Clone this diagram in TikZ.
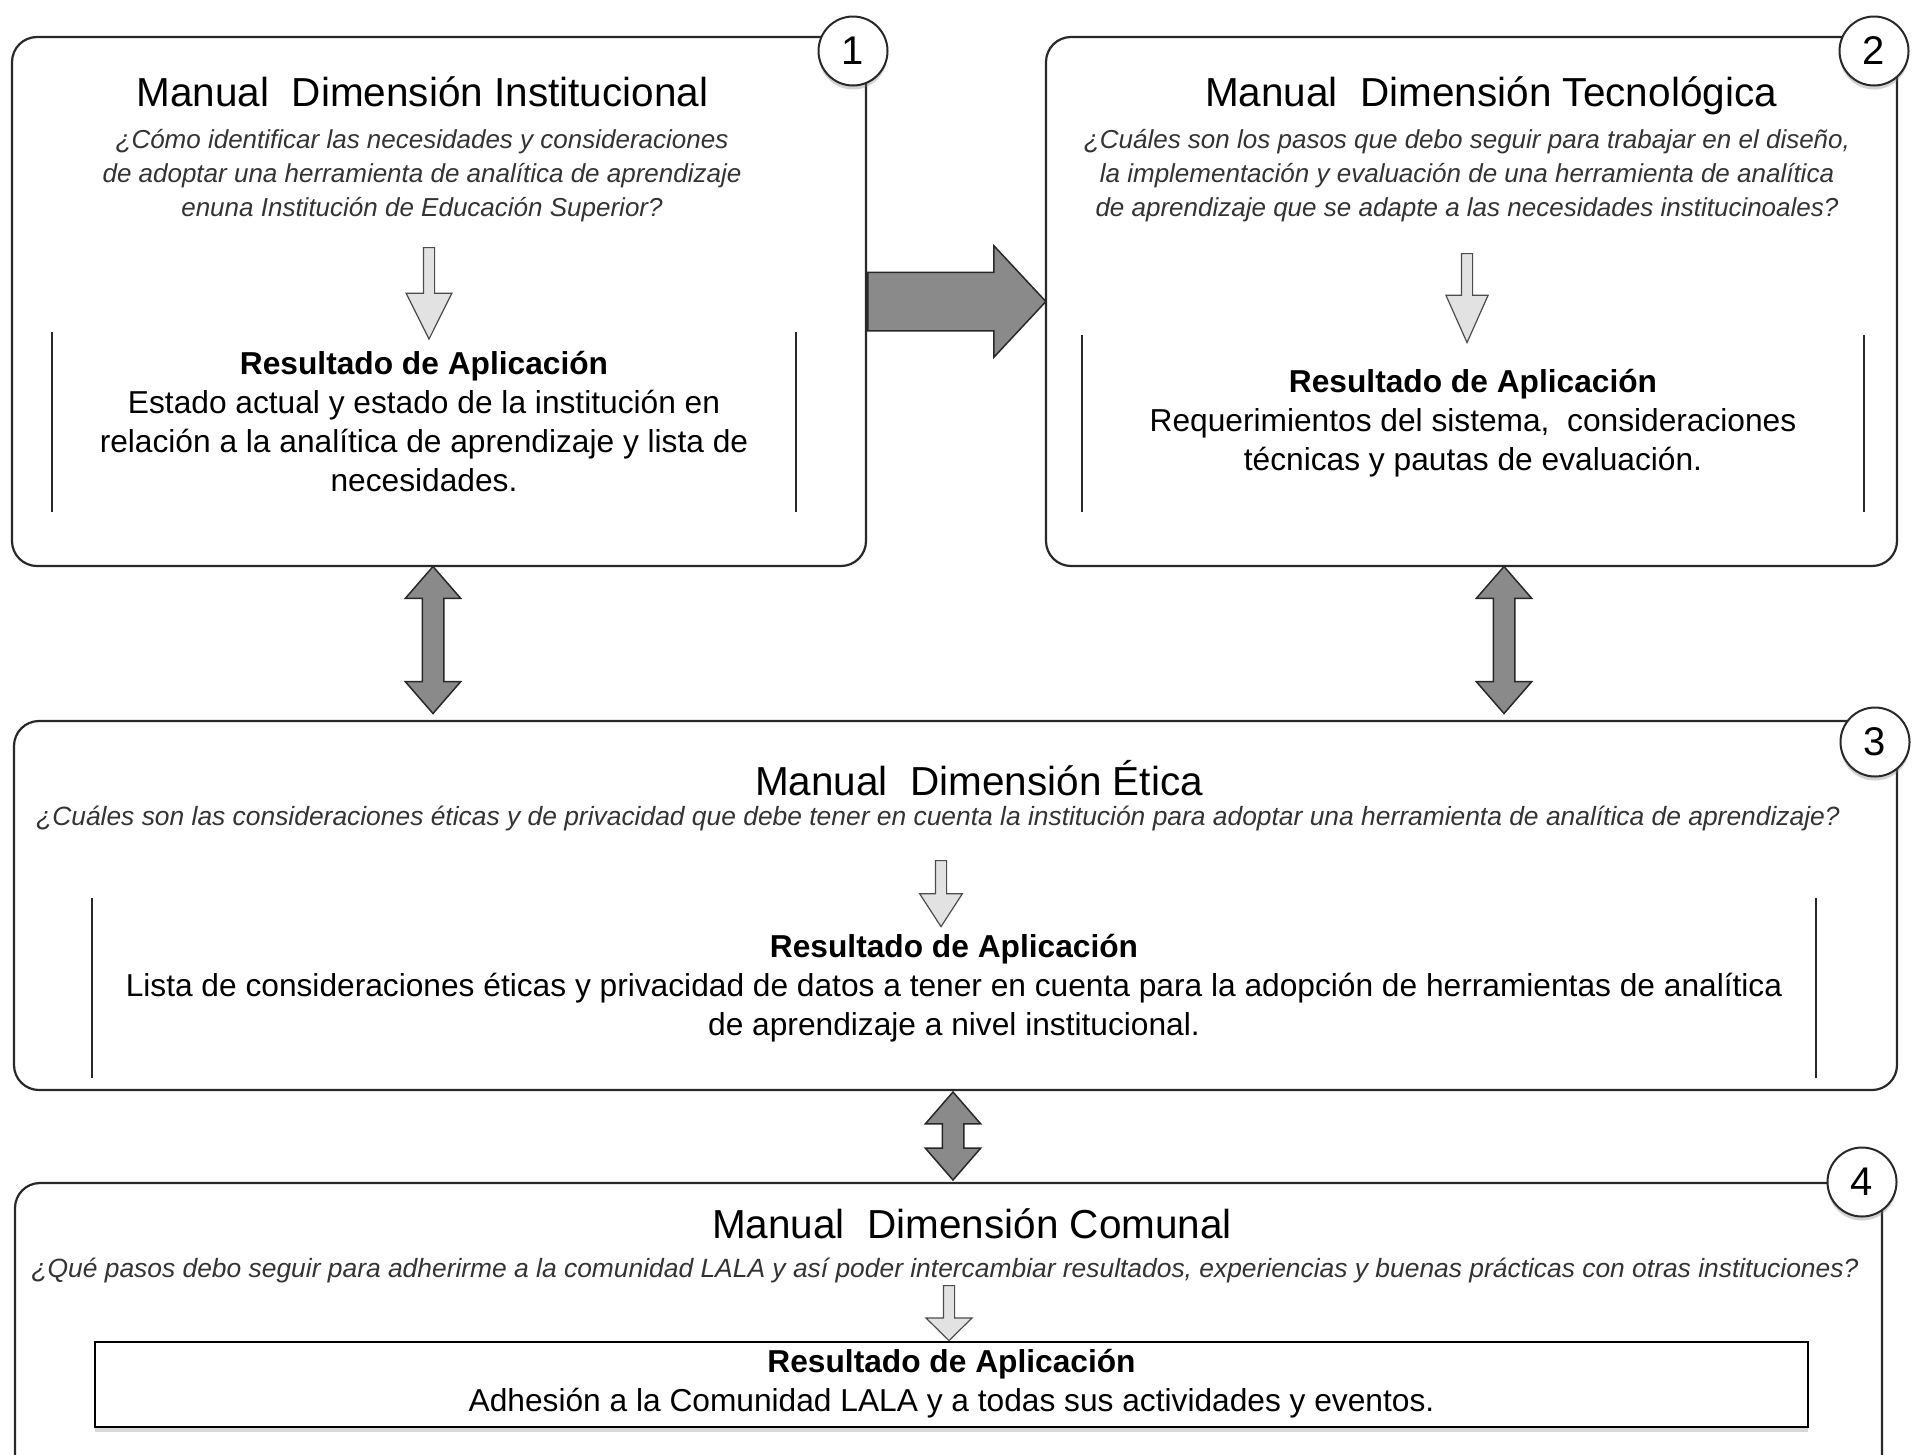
\documentclass[tikz,border=0pt]{standalone}
\usepackage{fontspec}
\setmainfont{Liberation Sans}
\usetikzlibrary{shapes.arrows,shadows}

\definecolor{linegray}{RGB}{40,40,40}
\definecolor{arrowgray}{RGB}{138,138,138}
\definecolor{lightarrow}{RGB}{226,226,226}

\tikzset{
  manualbox/.style={draw=linegray, line width=2.2pt, rounded corners=25pt, fill=white},
  numcircle/.style={circle, draw=linegray, line width=2pt, fill=white, minimum size=69pt,
    font=\fontsize{40}{40}\selectfont,
    drop shadow={shadow xshift=0pt, shadow yshift=-4pt, opacity=.35}},
  titletext/.style={font=\fontsize{40.5}{48}\selectfont, anchor=base},
  questiontext/.style={font=\fontsize{26}{34}\selectfont\itshape, text=black!80, align=center},
  resulttext/.style={font=\fontsize{31.7}{39}\selectfont, align=center},
  sidebar/.style={draw=linegray, line width=2pt},
  bigarrow/.style={draw=linegray, line width=1.5pt, fill=arrowgray},
  smallarrow/.style={single arrow, draw=black!70, line width=1.2pt, fill=lightarrow,
    inner sep=5pt, rotate=-90, anchor=tail},
}

\begin{document}
\begin{tikzpicture}[x=1pt, y=-1pt, inner sep=0pt]
   \useasboundingbox (0,0) rectangle (1921,1454);
   \clip (0,0) rectangle (1921,1454);

   % the four manuals
   \node[manualbox, minimum width=854pt, minimum height=529pt] (inst) at (439,301.5) {};
   \node[manualbox, minimum width=851pt, minimum height=529pt] (tec) at (1471.5,301.5) {};
   \node[manualbox, minimum width=1883pt, minimum height=369pt] (etica) at (955.5,905.5) {};
   \node[manualbox, minimum width=1867pt, minimum height=300pt] (comunal) at (948.5,1333) {};

   \node[numcircle] (n1) at (853,51) {1};
   \node[numcircle] (n2) at (1874,51) {2};
   \node[numcircle] (n3) at (1875,742) {3};
   \node[numcircle] (n4) at (1862,1182) {4};

   % titles and questions
   \node[titletext] (t1) at (422.5,106) {Manual~~Dimensión Institucional};
   \node[questiontext] (q1) at (422,176) {¿Cómo identificar las necesidades y consideraciones\\de adoptar una herramienta de analítica de aprendizaje\\enuna Institución de Educación Superior?};
   \node[titletext] (t2) at (1491,106) {Manual~~Dimensión Tecnológica};
   \node[questiontext] (q2) at (1467,176) {¿Cuáles son los pasos que debo seguir para trabajar en el diseño,\\la implementación y evaluación de una herramienta de analítica\\de aprendizaje que se adapte a las necesidades institucinoales?};
   \node[titletext] (t3) at (979,795) {Manual~~Dimensión Ética};
   \node[questiontext, font=\fontsize{26.4}{34}\selectfont\itshape] (q3) at (938,819) {¿Cuáles son las consideraciones éticas y de privacidad que debe tener en cuenta la institución para adoptar una herramienta de analítica de aprendizaje?};
   \node[titletext] (t4) at (972,1238) {Manual~~Dimensión Comunal};
   \node[questiontext, font=\fontsize{26.4}{34}\selectfont\itshape] (q4) at (945,1270) {¿Qué pasos debo seguir para adherirme a la comunidad LALA y así poder intercambiar resultados, experiencias y buenas prácticas con otras instituciones?};

   % results
   \node[resulttext, minimum width=744pt, minimum height=179pt] (res1) at (424,422) {\textbf{Resultado de Aplicación}\\Estado actual y estado de la institución en\\relación a la analítica de aprendizaje y lista de\\necesidades.};
   \draw[sidebar] (res1.north west) -- (res1.south west);
   \draw[sidebar] (res1.north east) -- (res1.south east);
   \node[resulttext, minimum width=781pt, minimum height=177pt] (res2) at (1473,423.5) {\textbf{Resultado de Aplicación}\\Requerimientos del sistema,~~consideraciones\\técnicas y pautas de evaluación.};
   \draw[sidebar] (res2.north west) -- (res2.south west);
   \draw[sidebar] (res2.north east) -- (res2.south east);
   \node[resulttext, minimum width=1724pt, minimum height=179pt] (res3) at (954,988) {\textbf{Resultado de Aplicación}\\Lista de consideraciones éticas y privacidad de datos a tener en cuenta para la adopción de herramientas de analítica\\de aprendizaje a nivel institucional.};
   \draw[sidebar] (res3.north west) -- (res3.south west);
   \draw[sidebar] (res3.north east) -- (res3.south east);
   \node[resulttext, draw=black, line width=2pt, fill=white, minimum width=1713pt, minimum height=85pt,
     drop shadow={shadow xshift=0pt, shadow yshift=-5pt, opacity=.3}] (res4) at (951.5,1384) {\textbf{Resultado de Aplicación}\\Adhesión a la Comunidad LALA y a todas sus actividades y eventos.};

   % small arrows inside the boxes
   \node[smallarrow, minimum height=91.5pt, single arrow head extend=17.3pt, single arrow tip angle=53] (a1) at (429,247) {};
   \node[smallarrow, minimum height=89pt, single arrow head extend=15.5pt, single arrow tip angle=48] (a2) at (1467,253) {};
   \node[smallarrow, minimum height=66pt, single arrow head extend=15.8pt, single arrow tip angle=66] (a3) at (941,860) {};
   \node[smallarrow, minimum height=55pt, single arrow head extend=17.5pt, single arrow tip angle=91] (a4) at (949,1285) {};

   % arrows between the boxes
   \node[bigarrow, single arrow, anchor=tail, minimum height=178pt, inner sep=28.5pt, single arrow head extend=26.5pt,
     single arrow tip angle=94] (go) at (inst.east) {};
   \node[bigarrow, double arrow, rotate=90, minimum height=147pt, inner sep=10pt, double arrow head extend=17pt,
     double arrow tip angle=82] (d13) at (433,640) {};
   \node[bigarrow, double arrow, rotate=90, minimum height=147pt, inner sep=10pt, double arrow head extend=17pt,
     double arrow tip angle=82] (d23) at (1504,640) {};
   \node[bigarrow, double arrow, rotate=90, minimum height=88pt, inner sep=10pt, double arrow head extend=17pt,
     double arrow tip angle=82] (d34) at (953,1136) {};
\end{tikzpicture}
\end{document}
